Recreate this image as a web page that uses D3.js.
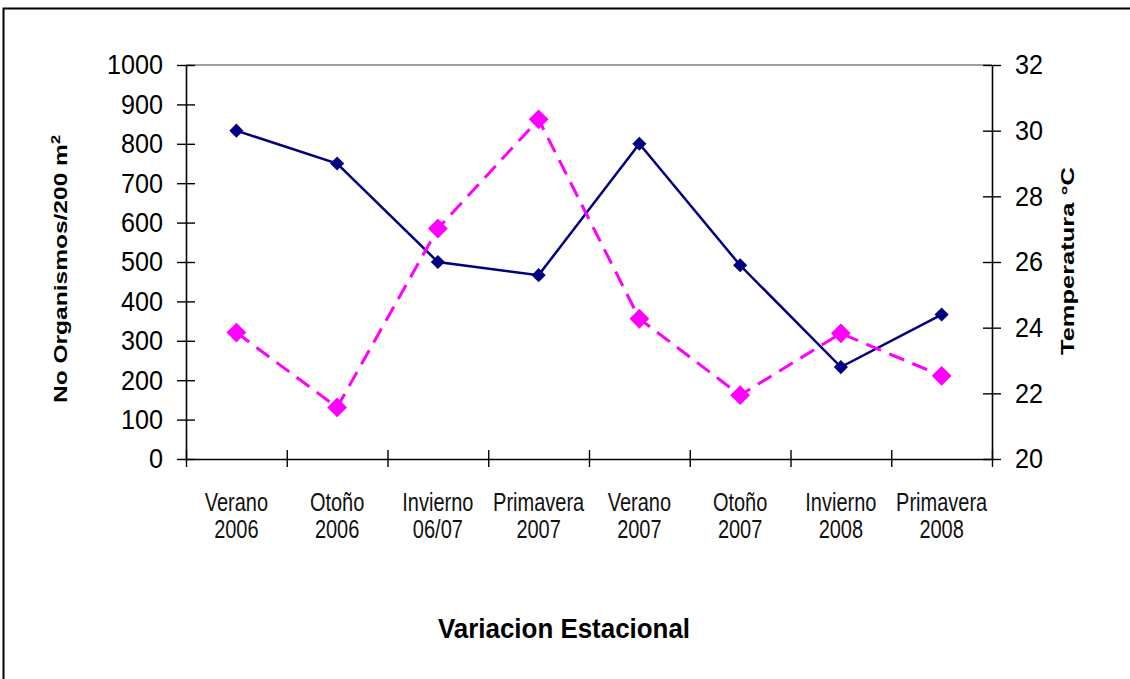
<!DOCTYPE html>
<html>
<head>
<meta charset="utf-8">
<script src="https://cdn.jsdelivr.net/npm/d3@7"></script>
<style>
  body { margin: 0; background: #fff; }
  svg { display: block; }
  text { font-family: "Liberation Sans", Arial, sans-serif; }
</style>
</head>
<body>
<svg id="chart" width="1130" height="679"></svg>
<script>
// Seasonal sampling periods (two-line category labels)
const seasons = ["Verano", "Otoño", "Invierno", "Primavera", "Verano", "Otoño", "Invierno", "Primavera"];
const years   = ["2006", "2006", "06/07", "2007", "2007", "2007", "2008", "2008"];

// Number of organisms per 200 m² (left axis)
const organismos = [321, 131, 585, 862, 356, 162, 319, 211];
// Water temperature in °C (right axis)
const temperatura = [30.0, 29.0, 26.0, 25.6, 29.6, 25.9, 22.8, 24.4];

const leftTicks  = [0, 100, 200, 300, 400, 500, 600, 700, 800, 900, 1000];
const rightTicks = [20, 22, 24, 26, 28, 30, 32];

const xTitle = "Variacion Estacional";
const leftTitle = "No Organismos/200 m";
const leftTitleSup = "2";
const rightTitle = "Temperatura °C";

const svg = d3.select("#chart");
const plot = { left: 186, right: 992, top: 65, bottom: 459 };
const labelGap = 23;      // distance from axis line to tick label
const digitScale = 0.9;   // horizontal condensation of tick digits

// Outer frame
svg.append("path")
  .attr("d", "M3.5,679 V8.5 H1130")
  .attr("fill", "none").attr("stroke", "#000").attr("stroke-width", 2);

// Scales
const idx = d3.range(seasons.length);
const xb = d3.scaleLinear().domain([0, seasons.length]).range([plot.left, plot.right]);
const xc = i => xb(i + 0.5);
const yL = d3.scaleLinear().domain([0, 1000]).range([plot.bottom, plot.top]);
const yR = d3.scaleLinear().domain([20, 32]).range([plot.bottom, plot.top]);

// Top border of plot area
svg.append("line")
  .attr("x1", plot.left).attr("x2", plot.right)
  .attr("y1", plot.top).attr("y2", plot.top)
  .attr("stroke", "#808080").attr("stroke-width", 1.5);

// Left axis
const gL = svg.append("g").attr("transform", `translate(${plot.left},0)`)
  .call(d3.axisLeft(yL).tickValues(leftTicks).tickFormat(d3.format("d"))
    .tickSize(9).tickSizeOuter(0).tickPadding(labelGap - 9));
gL.selectAll(".tick line").attr("x1", 9);
gL.selectAll(".tick text")
  .attr("x", -labelGap / digitScale)
  .attr("transform", `scale(${digitScale},1)`)
  .attr("font-size", 28).attr("fill", "#000")
  .attr("font-family", "'Liberation Sans', Arial, sans-serif");

// Right axis
const gR = svg.append("g").attr("transform", `translate(${plot.right},0)`)
  .call(d3.axisRight(yR).tickValues(rightTicks).tickFormat(d3.format("d"))
    .tickSize(9).tickSizeOuter(0).tickPadding(labelGap - 9));
gR.selectAll(".tick line").attr("x1", -9);
gR.selectAll(".tick text")
  .attr("x", labelGap / digitScale)
  .attr("transform", `scale(${digitScale},1)`)
  .attr("font-size", 28).attr("fill", "#000")
  .attr("font-family", "'Liberation Sans', Arial, sans-serif");

// Bottom axis: tick marks at category boundaries
const gX = svg.append("g").attr("transform", `translate(0,${plot.bottom})`)
  .call(d3.axisBottom(xb).tickValues(d3.range(seasons.length + 1)).tickFormat("").tickSize(8).tickSizeOuter(0));
gX.selectAll(".tick line").attr("y1", -9);

[gL, gR, gX].forEach(g => {
  g.select(".domain").attr("stroke", "#000").attr("stroke-width", 1.6);
  g.selectAll(".tick line").attr("stroke", "#000").attr("stroke-width", 1.4);
});

// Category labels (condensed)
const lab = svg.append("g").selectAll("text").data(idx).join("text")
  .attr("transform", i => `translate(${xc(i)},0) scale(0.8,1)`)
  .attr("text-anchor", "middle")
  .attr("font-size", 25)
  .attr("fill", "#111");
lab.append("tspan").attr("x", 0).attr("y", 511).text(i => seasons[i]);
lab.append("tspan").attr("x", 0).attr("y", 538).text(i => years[i]);

// Axis titles
svg.append("text")
  .attr("x", 564).attr("y", 638)
  .attr("text-anchor", "middle")
  .attr("font-size", 27).attr("font-weight", "bold")
  .attr("textLength", 252).attr("lengthAdjust", "spacingAndGlyphs")
  .text(xTitle);

const lt = svg.append("text")
  .attr("transform", "translate(67,269) rotate(-90)")
  .attr("text-anchor", "middle")
  .attr("font-size", 18).attr("font-weight", "bold")
  .attr("textLength", 268).attr("lengthAdjust", "spacingAndGlyphs");
lt.append("tspan").text(leftTitle);
lt.append("tspan").attr("dy", -7).attr("font-size", 12).text(leftTitleSup);

svg.append("text")
  .attr("transform", "translate(1074,261) rotate(-90)")
  .attr("text-anchor", "middle")
  .attr("font-size", 18).attr("font-weight", "bold")
  .attr("textLength", 188).attr("lengthAdjust", "spacingAndGlyphs")
  .text(rightTitle);

// Temperature series (navy, solid)
const lineT = d3.line().x(i => xc(i)).y(i => yR(temperatura[i]));
svg.append("path").datum(idx)
  .attr("d", lineT)
  .attr("fill", "none").attr("stroke", "#000080").attr("stroke-width", 2.5);

svg.append("g").selectAll("path").data(idx).join("path")
  .attr("d", d3.symbol(d3.symbolSquare, 100))
  .attr("transform", i => `translate(${xc(i)},${yR(temperatura[i])}) rotate(45)`)
  .attr("fill", "#000080");

// Organisms series (magenta, dashed)
const lineO = d3.line().x(i => xc(i)).y(i => yL(organismos[i]));
svg.append("path").datum(idx)
  .attr("d", lineO)
  .attr("fill", "none").attr("stroke", "#FF00FF").attr("stroke-width", 3)
  .attr("stroke-dasharray", "16,9");

svg.append("g").selectAll("path").data(idx).join("path")
  .attr("d", d3.symbol(d3.symbolSquare, 196))
  .attr("transform", i => `translate(${xc(i)},${yL(organismos[i])}) rotate(45)`)
  .attr("fill", "#FF00FF");
</script>
</body>
</html>
